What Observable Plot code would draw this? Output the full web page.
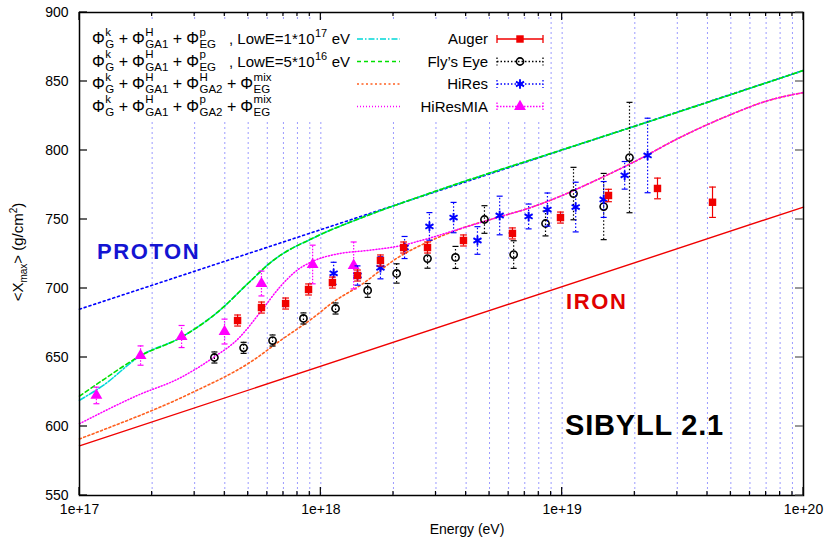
<!DOCTYPE html>
<html><head><meta charset="utf-8">
<script src="https://cdn.jsdelivr.net/npm/d3@7"></script>
<script src="https://cdn.jsdelivr.net/npm/@observablehq/plot@0.6"></script>
<style>body{margin:0;background:#fff} svg{font-family:"Liberation Sans",Arial,sans-serif}</style>
</head><body><div id="chart"></div>
<script>
// ---- axes ----
const xTicks = [1e17, 1e18, 1e19, 1e20];
const decades = [17, 18, 19];
const mult = [1, 2, 3, 4, 5, 6, 7, 8, 9];
const yTicks = [550, 600, 650, 700, 750, 800, 850, 900];

// ---- model curves (log10 E, <Xmax>) ----
const lgProton = [17, 20];
const xProton = [685, 858];
const lgIron = [17, 20];
const xIron = [586, 759];
const lgCyan = [17.0, 17.1, 17.25, 17.42, 17.58, 17.70, 17.80, 17.89, 17.95, 18.01, 18.15, 18.5, 19, 19.5, 20];
const xCyan = [619, 630, 651, 664.5, 684, 704, 720, 730, 735, 740, 750, 772, 800.5, 829, 858];
const lgGreen = [17.0, 17.1, 17.25, 17.42, 17.58, 17.70, 17.80, 17.89, 17.95, 18.01, 18.15, 18.5, 19, 19.5, 20];
const xGreen = [622, 634, 651, 664.5, 684, 704, 720, 730, 735, 740, 750, 772, 800.5, 829, 858];
const lgOrange = [17.0, 17.09, 17.46, 17.72, 17.83, 17.97, 18.05, 18.17, 18.32, 18.46, 18.59, 18.73, 18.87, 19.0, 19.12, 19.31, 19.48, 19.69, 19.85, 20.0];
const xOrange = [591, 597, 624, 648, 662, 679, 690, 703, 722.5, 735, 744, 751.4, 758.7, 767.4, 776.8, 792.8, 808.7, 825.4, 836, 842];
const lgMagenta = [17.0, 17.24, 17.42, 17.555, 17.66, 17.75, 17.83, 17.90, 17.97, 18.08, 18.19, 18.33, 18.44, 18.59, 18.73, 18.87, 19.0, 19.12, 19.31, 19.48, 19.69, 19.85, 20.0];
const xMagenta = [602, 622.5, 635.5, 650, 664, 683, 701, 713, 720, 725.4, 727.5, 731, 736, 744, 751.4, 758.7, 767.4, 776.8, 792.8, 808.7, 825.4, 836, 842];

// ---- measurements ----
const lgAuger = [17.655, 17.754, 17.854, 17.949, 18.048, 18.152, 18.247, 18.343, 18.442, 18.591, 18.794, 18.993, 19.192, 19.395, 19.623];
const xAuger = [676.8, 686.2, 689.1, 699.3, 704.3, 709.4, 720.3, 729.7, 729.7, 734.8, 739.9, 751.4, 767.4, 772.5, 762.5];
const eAuger = [4, 4, 4, 4, 4, 4, 4, 4, 4, 4, 4, 4, 4.5, 7.5, 11];
const lgFly = [17.559, 17.680, 17.800, 17.928, 18.061, 18.194, 18.314, 18.442, 18.558, 18.678, 18.799, 18.931, 19.047, 19.172, 19.279];
const xFly = [650, 657, 662.3, 678.3, 685.5, 698.6, 710.9, 721.7, 722.5, 750, 724.6, 747.1, 768.8, 759.4, 794.9];
const eFly = [4, 4, 4, 4, 4, 5, 7, 7, 8, 10, 10, 9, 19, 24, 40];
const lgHiRes = [18.053, 18.152, 18.247, 18.347, 18.450, 18.550, 18.649, 18.741, 18.861, 18.939, 19.056, 19.172, 19.259, 19.354];
const xHiRes = [711, 709.4, 715, 729.7, 745, 751.4, 734.8, 752.9, 752.2, 757.2, 759, 764.5, 782, 796.4];
const eHiRes = [8, 7, 8, 8, 10, 11, 10, 14, 9, 12, 18, 13, 10, 27];
const lgMIA = [17.070, 17.253, 17.423, 17.601, 17.754, 17.966, 18.136];
const xMIA = [622.5, 651.4, 665.2, 668.8, 703.6, 717.4, 716.7];
const eMIA = [6, 7, 8, 9, 9, 14, 17];

const rows = (lg, v, e) => lg.map((d, i) => ({E: 10 ** d, X: v[i], err: e ? e[i] : 0}));
const gridE = decades.flatMap(d => mult.map(m => m * 10 ** d)).filter(v => v > 1e17);

const C = {red: "#f00000", black: "#000", blue: "#0000ff", mag: "#ff00ff", green: "#00e000", cyan: "#00d8d8", orange: "#ff6020", proton: "#0000ff"};

const cap = {draw(ctx, size) { const w = Math.sqrt(size / Math.PI); ctx.moveTo(-w, 0); ctx.lineTo(w, 0); }};

function curve(lg, v, stroke, dash, w) {
  return Plot.line(rows(lg, v), {x: "E", y: "X", stroke, strokeWidth: w, strokeDasharray: dash, curve: "monotone-x"});
}
function errorSet(data, color, dash, capR) {
  return [
    Plot.ruleX(data, {x: "E", y1: d => d.X - d.err, y2: d => d.X + d.err, stroke: color, strokeWidth: 1.2, strokeDasharray: dash}),
    Plot.dot(data, {x: "E", y: d => d.X - d.err, symbol: cap, r: capR, stroke: color, fill: "none", strokeWidth: 1.2}),
    Plot.dot(data, {x: "E", y: d => d.X + d.err, symbol: cap, r: capR, stroke: color, fill: "none", strokeWidth: 1.2})
  ];
}

const auger = rows(lgAuger, xAuger, eAuger);
const fly = rows(lgFly, xFly, eFly);
const hires = rows(lgHiRes, xHiRes, eHiRes);
const mia = rows(lgMIA, xMIA, eMIA);

const chart = Plot.plot({
  width: 830, height: 542,
  marginLeft: 79, marginRight: 27, marginTop: 12, marginBottom: 47,
  style: {fontFamily: "Liberation Sans, Arial, sans-serif", fontSize: "14px", background: "white", overflow: "visible"},
  x: {type: "log", domain: [1e17, 1e20]},
  y: {domain: [550, 900]},
  marks: [
    Plot.ruleX(gridE, {stroke: "#3a3aff", strokeOpacity: 0.5, strokeDasharray: "2,3", strokeWidth: 1}),
    curve(lgProton, xProton, C.proton, "2,3", 1.6),
    curve(lgIron, xIron, C.red, null, 1.4),
    curve(lgCyan, xCyan, C.cyan, "6,2,1.5,2", 1.6),
    curve(lgGreen, xGreen, C.green, "4,3", 1.6),
    curve(lgOrange, xOrange, C.orange, "2,2.5", 1.6),
    curve(lgMagenta, xMagenta, C.mag, "1,2", 1.5),
    ...errorSet(mia, C.mag, "1.5,1.5", 3),
    Plot.dot(mia, {x: "E", y: "X", symbol: "triangle", r: 4.4, fill: C.mag, stroke: "none"}),
    ...errorSet(fly, C.black, "1.5,2", 3),
    Plot.dot(fly, {x: "E", y: "X", symbol: "circle", r: 3.6, fill: "none", stroke: C.black, strokeWidth: 1.6}),
    ...errorSet(hires, C.blue, "1.5,2", 3),
    Plot.dot(hires, {x: "E", y: "X", symbol: "asterisk", r: 4.4, stroke: C.blue, strokeWidth: 1.9}),
    ...errorSet(auger, C.red, null, 3.4),
    Plot.dot(auger, {x: "E", y: "X", symbol: "square", r: 4.2, fill: C.red, stroke: "none"}),
    Plot.frame({stroke: "black", strokeWidth: 1.5}),
    Plot.axisY({ticks: yTicks, tickSize: 0, tickPadding: 11, fontSize: 14, label: null}),
    Plot.axisX({ticks: xTicks, tickSize: 0, tickPadding: 9, fontSize: 14, label: null,
      tickFormat: d => "1e+" + Math.round(Math.log10(d))})
  ]
});
document.getElementById("chart").appendChild(chart);

// ---- overlay: ticks, legend, labels ----
const svg = d3.select(chart);
const sx = chart.scale("x"), sy = chart.scale("y");
const [x0, x1] = sx.range;
const [yb, yt] = sy.range;
const g = svg.append("g").attr("text-anchor", "start");

// legend background
g.append("rect").attr("x", 89).attr("y", 22).attr("width", 459).attr("height", 98).attr("fill", "white");

// inward ticks
yTicks.forEach(v => {
  const y = sy.apply(v);
  g.append("line").attr("x1", x0).attr("x2", x0 + 8).attr("y1", y).attr("y2", y).attr("stroke", "black").attr("stroke-width", 1.2);
  g.append("line").attr("x1", x1).attr("x2", x1 - 8).attr("y1", y).attr("y2", y).attr("stroke", "#555").attr("stroke-width", 1.2);
});
decades.flatMap(d => mult.map(m => m * 10 ** d)).concat([1e20]).forEach(v => {
  const x = sx.apply(v);
  const major = Math.abs(Math.log10(v) - Math.round(Math.log10(v))) < 1e-9;
  const L = major ? 8 : 4;
  g.append("line").attr("x1", x).attr("x2", x).attr("y1", yb).attr("y2", yb - L).attr("stroke", "black").attr("stroke-width", 1.2);
  g.append("line").attr("x1", x).attr("x2", x).attr("y1", yt).attr("y2", yt + L).attr("stroke", "black").attr("stroke-width", 1.2);
});

// axis titles
const yl = g.append("text").attr("transform", "translate(23,252) rotate(-90)").attr("text-anchor", "middle").attr("font-size", 15);
yl.append("tspan").text("<X");
yl.append("tspan").attr("font-size", 10).attr("dy", 4).text("max");
yl.append("tspan").attr("dy", -4).text("> (g/cm");
yl.append("tspan").attr("font-size", 10).attr("dy", -6).text("2");
yl.append("tspan").attr("dy", 6).text(")");
g.append("text").attr("x", 467).attr("y", 534).attr("text-anchor", "middle").attr("font-size", 14).text("Energy (eV)");

// annotations
g.append("text").attr("x", 97).attr("y", 259).attr("font-size", 22).attr("font-weight", "bold").attr("letter-spacing", 1.6).attr("fill", "#1414d2").text("PROTON");
g.append("text").attr("x", 566).attr("y", 309).attr("font-size", 22).attr("font-weight", "bold").attr("letter-spacing", 1.6).attr("fill", "#e00000").text("IRON");
g.append("text").attr("x", 565).attr("y", 435).attr("font-size", 29).attr("font-weight", "bold").attr("letter-spacing", 0.8).attr("fill", "#000").text("SIBYLL 2.1");

// left legend (formulas)
const formulas = [
  {terms: [["k", "G"], ["H", "GA1"], ["p", "EG"]], suffix: true, pow: "17", mant: "1", color: C.cyan, dash: "6,2,1.5,2"},
  {terms: [["k", "G"], ["H", "GA1"], ["p", "EG"]], suffix: true, pow: "16", mant: "5", color: C.green, dash: "4,3"},
  {terms: [["k", "G"], ["H", "GA1"], ["H", "GA2"], ["mix", "EG"]], suffix: false, color: C.orange, dash: "2,2.5"},
  {terms: [["k", "G"], ["H", "GA1"], ["p", "GA2"], ["mix", "EG"]], suffix: false, color: C.mag, dash: "1,2"}
];
const baselines = [44, 66.5, 89, 111.5];
function put(x, y, txt, size) {
  const t = g.append("text").attr("x", x).attr("y", y).attr("font-size", size).attr("text-anchor", "start").text(txt);
  return t.node().getComputedTextLength();
}
formulas.forEach((f, i) => {
  const y = baselines[i];
  let cx = 92;
  f.terms.forEach((t, j) => {
    if (j > 0) { cx += 4; cx += put(cx, y, "+", 16); cx += 4; }
    cx += put(cx, y, "\u03A6", 16);
    const w1 = put(cx + 0.5, y + 4, t[1], 11.5);
    const w2 = put(cx + 0.5, y - 8.5, t[0], 11.5);
    cx += Math.max(w1, w2) + 1;
  });
  if (f.suffix) {
    let sx2 = 229;
    sx2 += put(sx2, y, ", LowE=" + f.mant + "*10", 15);
    sx2 += put(sx2 + 0.5, y - 7, f.pow, 11) + 1;
    put(sx2 + 4, y, "eV", 15);
  }
  g.append("line").attr("x1", 357).attr("x2", 400).attr("y1", y - 5).attr("y2", y - 5)
    .attr("stroke", f.color).attr("stroke-width", 1.6).attr("stroke-dasharray", f.dash);
});

// right legend (data sets)
const legendSets = [
  {name: "Auger", color: C.red, dash: null, sym: d3.symbolSquare, r: 4.2, filled: true},
  {name: "Fly\u2019s Eye", color: C.black, dash: "1.5,2", sym: d3.symbolCircle, r: 3.6, filled: false},
  {name: "HiRes", color: C.blue, dash: "1.5,2", sym: d3.symbolAsterisk, r: 4.4, filled: false},
  {name: "HiResMIA", color: C.mag, dash: "1.5,1.5", sym: d3.symbolTriangle, r: 4.4, filled: true}
];
legendSets.forEach((s, i) => {
  const y = baselines[i];
  const cy = y - 5;
  g.append("text").attr("x", 488).attr("y", y).attr("text-anchor", "end").attr("font-size", 15).text(s.name);
  g.append("line").attr("x1", 497).attr("x2", 543).attr("y1", cy).attr("y2", cy)
    .attr("stroke", s.color).attr("stroke-width", 1.3).attr("stroke-dasharray", s.dash);
  [497, 543].forEach(ex => g.append("line").attr("x1", ex).attr("x2", ex).attr("y1", cy - 4).attr("y2", cy + 4)
    .attr("stroke", s.color).attr("stroke-width", 1.3).attr("stroke-dasharray", s.dash));
  const p = g.append("path").attr("transform", `translate(520,${cy})`).attr("d", d3.symbol(s.sym, Math.PI * s.r * s.r)());
  if (s.filled) p.attr("fill", s.color);
  else p.attr("fill", "none").attr("stroke", s.color).attr("stroke-width", s.sym === d3.symbolAsterisk ? 1.9 : 1.6);
});
</script>
</body></html>
